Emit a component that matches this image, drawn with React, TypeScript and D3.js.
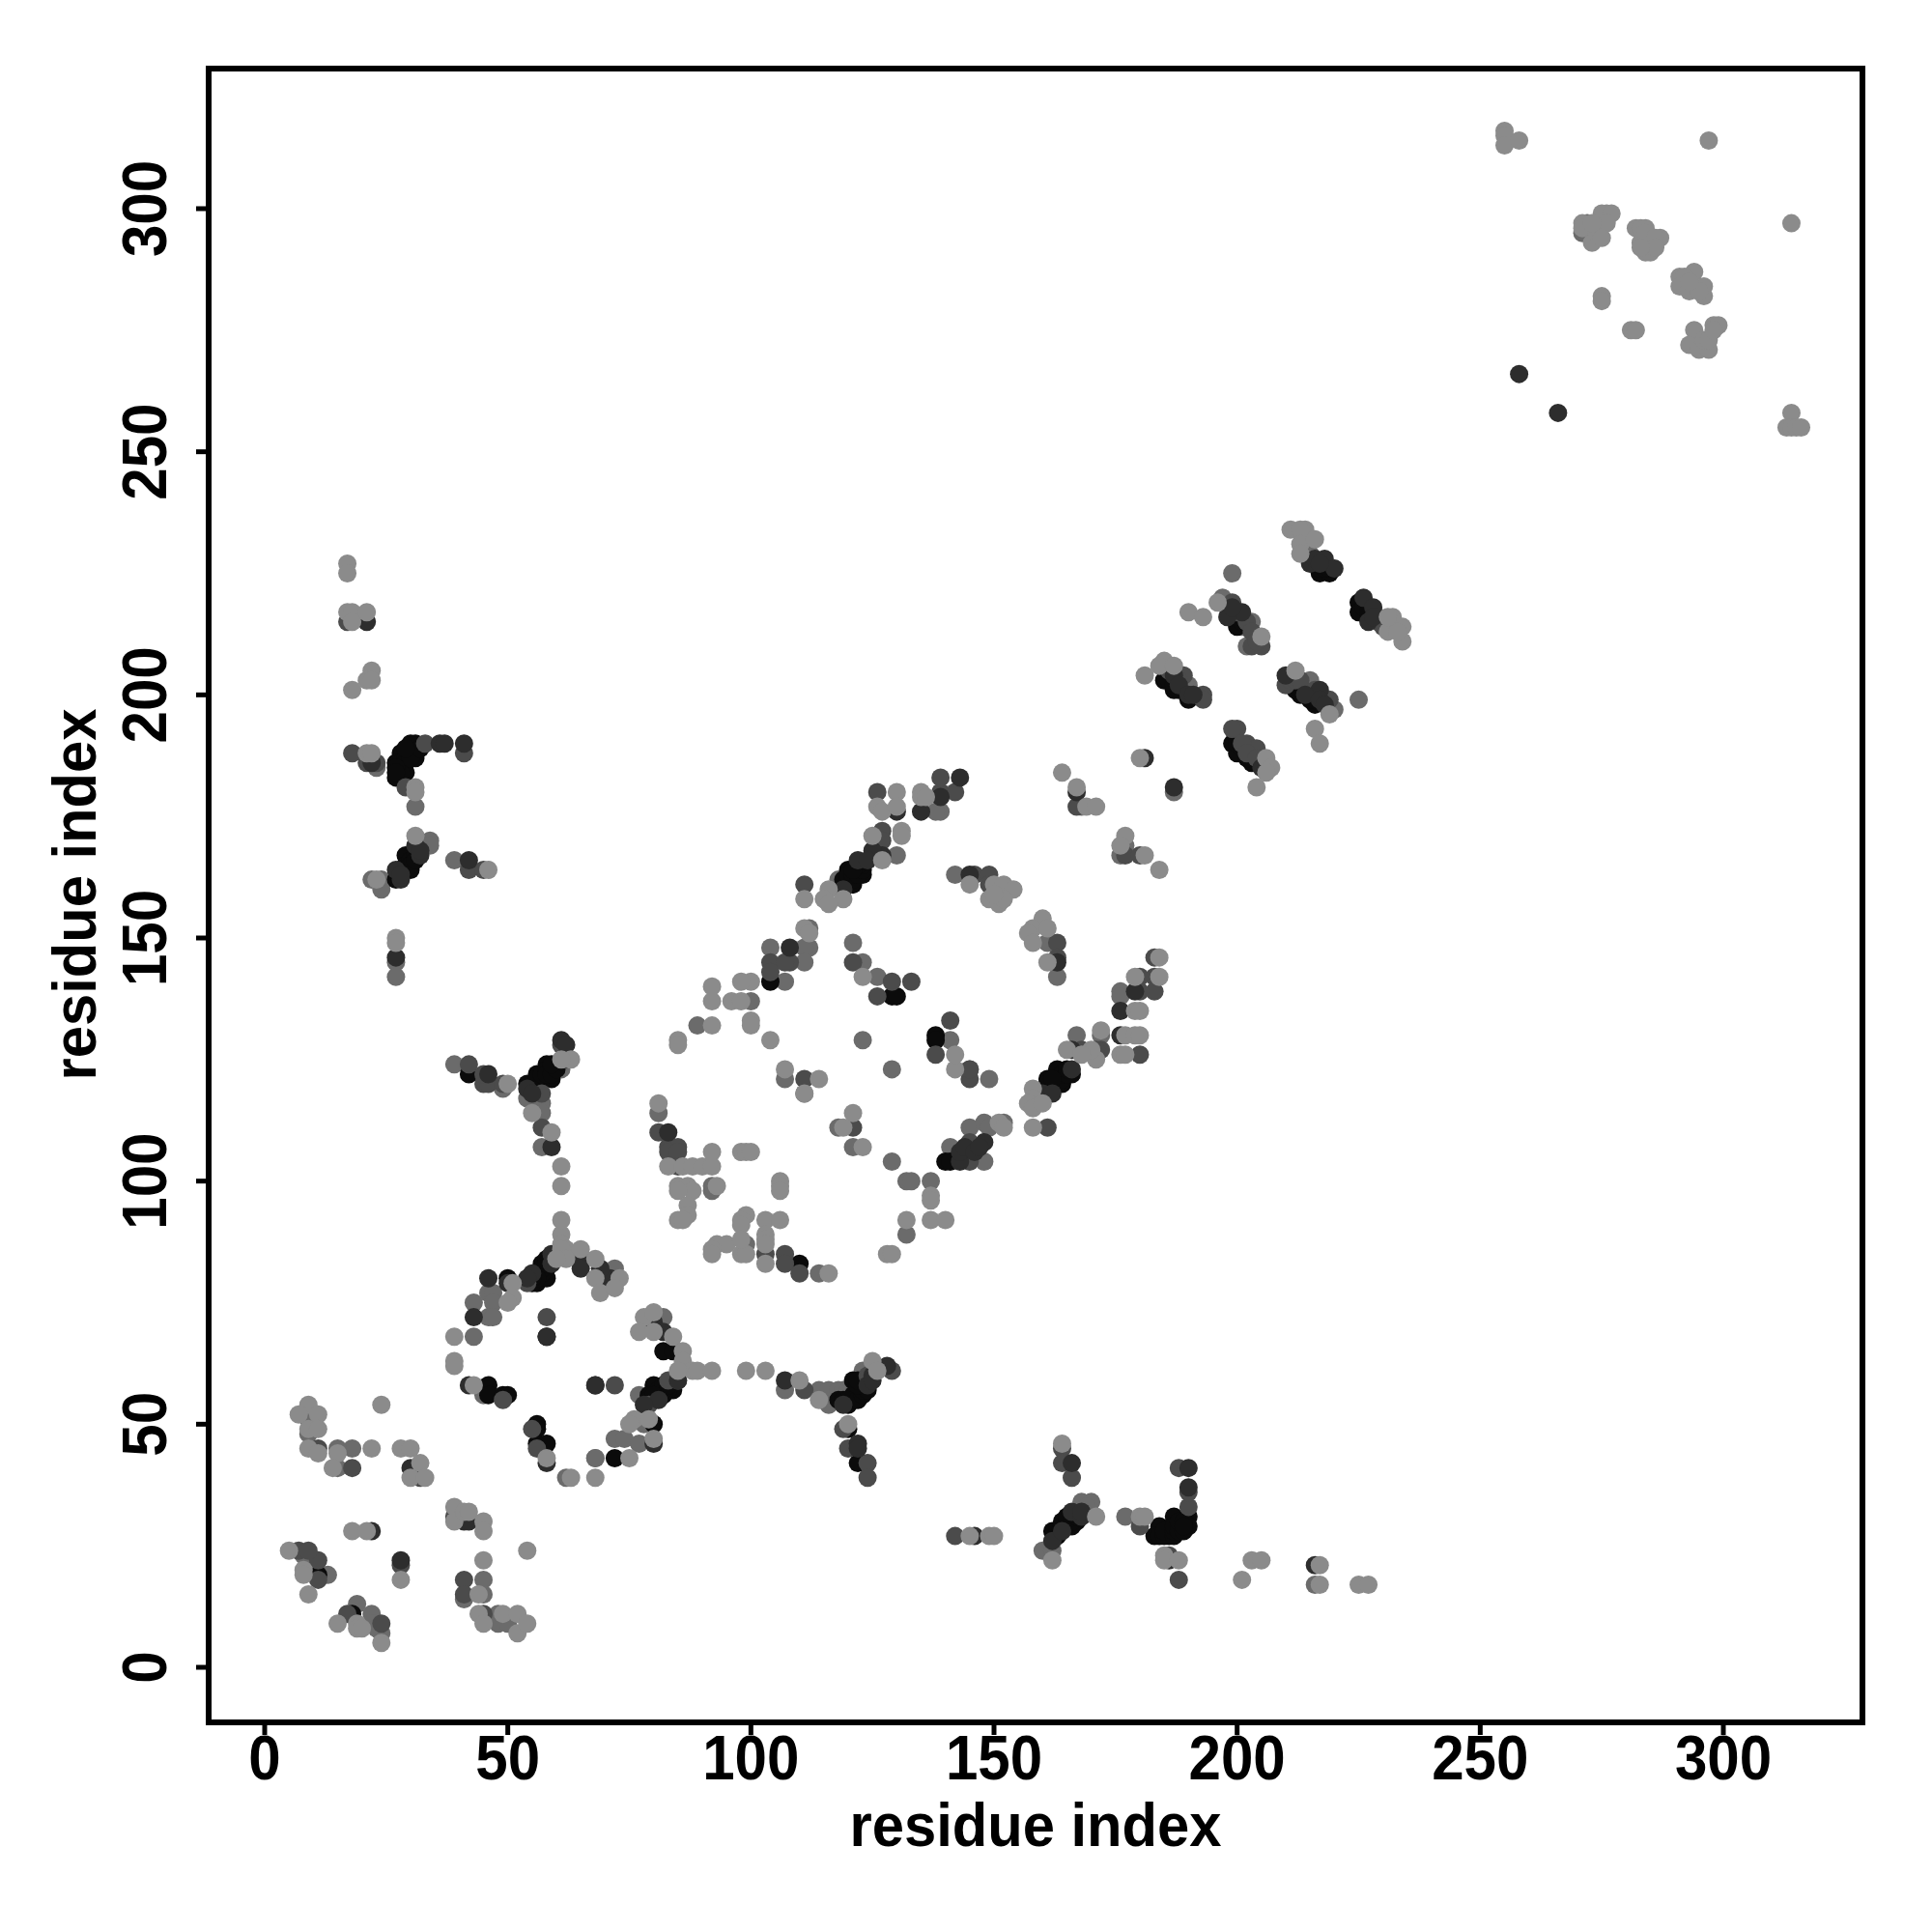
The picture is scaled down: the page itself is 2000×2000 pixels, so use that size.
import React from "react";
import * as d3 from "d3";

const xTicks = [0, 50, 100, 150, 200, 250, 300];
const yTicks = [0, 50, 100, 150, 200, 250, 300];
const axisLabel = "residue index";

const lightPts: number[][] = [
[9,54],[7,52],[11,52],[9,49],[11,49],[9,45],[11,44],[15,44],[22,45],[24,54],[14,41],[28,45],[30,45],[32,42],[30,39],[33,39],
[39,68],[39,63],[39,62],[43,58],[58,43],[63,39],[68,39],[39,33],[39,30],[41,32],[42,32],[45,30],[45,28],[54,24],[45,22],[44,15],
[44,11],[45,9],[49,11],[52,11],[52,7],[54,9],[18,28],[21,28],[28,18],[5,24],[8,20],[8,19],[9,15],[15,9],[19,9],[19,8],[20,8],[24,5],
[61,89],[61,87],[62,86],[61,86],[65,86],[68,84],[73,80],[68,80],[69,77],[72,78],[62,84],[60,84],[51,79],[51,76],[50,75],
[78,72],[80,73],[77,69],[80,69],[84,68],[86,65],[86,63],[88,61],[89,61],[92,61],[99,61],[103,61],[85,61],[76,51],[75,50],[79,51],[80,47],[75,43],
[81,116],[83,103],[86,103],[88,103],[90,103],[92,106],[92,103],[98,106],[99,106],[100,106],[85,99],[87,99],[88,98],[85,98],[93,99],[87,95],[85,92],[87,93],[86,92],
[106,100],[106,99],[106,98],[99,93],[98,92],[98,91],[103,92],[106,92],[103,89],[103,88],[103,87],[93,87],[95,87],[92,86],[92,85],[98,85],[99,85],[98,88],[103,83],[116,81],
[121,114],[119,111],[123,107],[132,92],[137,97],[137,96],[137,92],[140,92],[128,85],[129,85],
[110,59],[114,55],[125,63],[126,61],[120,50],[145,27],[149,27],[150,27],
[164,46],[171,31],[162,22],[180,31],[181,31],[185,23],[185,22],[188,22],
[201,18],[203,22],[205,22],[217,21],[217,17],[225,17],[227,17],
[17,227],[17,225],[17,217],[18,217],[18,215],[21,217],[22,205],[21,203],[22,203],[18,201],[21,188],[22,188],[31,181],[31,180],[31,171],[23,162],[46,164],
[27,150],[27,149],[63,125],[61,125],[55,114],[59,110],[61,103],[61,99],[61,92],[50,120],
[130,180],[126,177],[127,176],[130,177],[135,180],[135,179],[136,179],[125,171],[131,172],[131,171],[127,166],[116,160],[115,158],[119,158],[116,157],[111,158],
[111,152],[112,151],[100,141],[98,141],[92,140],[92,137],[96,137],[98,137],[92,132],[100,133],[100,132],[104,129],[85,129],[85,128],[107,123],[114,121],[111,118],
[123,142],[142,123],[142,126],
[145,161],[150,161],[152,161],[154,160],[149,158],[151,157],[152,158],[150,159],[160,154],[158,152],[157,151],[161,152],[158,149],[161,145],[184,164],
[184,146],[179,142],[184,142],[179,135],[180,135],[172,131],[177,130],[179,130],[180,130],[176,126],[177,126],[171,125],[170,127],[165,127],[168,126],
[158,119],[158,117],[157,116],[158,115],[160,116],[158,111],[151,112],[152,111],
[164,184],[167,181],[169,177],[171,177],[177,171],[176,169],[181,167],[180,187],
[181,204],[185,207],[184,206],[187,206],[206,187],[207,185],[206,184],[204,181],[212,205],[219,196],[216,193],[217,190],
[190,217],[193,216],[196,219],[205,212],[211,234],[214,234],[213,234],[213,231],[216,232],[213,229],[232,216],[231,213],[234,214],[234,211],[233,213],[231,216],
[255,316],[255,315],[255,313],[258,314],[297,314],[314,297],[271,297],[271,296],[273,293],[274,295],[276,299],[275,299],[277,299],[276,297],[275,294],[273,297],
[282,296],[283,296],[284,296],[283,293],[284,295],[287,294],[286,294],[284,291],[285,291],[286,292],[283,292],
[294,287],[291,286],[292,286],[291,284],[293,283],[296,284],[296,282],[295,283],[293,285],[275,282],[275,281],[281,275],[282,275],
[298,276],[299,276],[294,275],[293,272],[295,271],[297,271],[296,273],[297,273],[298,275],
[314,258],[313,255],[314,255],[315,255],[316,255],
];

const midPts: number[][] = [
[18,45],[15,45],[15,41],[9,51],[9,48],[43,68],[45,56],[68,43],[62,39],[45,18],[45,15],[41,14],[48,11],[48,9],[50,9],[19,13],[22,11],[22,9],[24,7],[23,8],[8,23],[9,22],[13,19],
[72,82],[69,80],[46,77],[47,77],[47,75],[43,75],[46,72],[47,72],[82,72],[77,56],[78,50],[72,47],[74,47],[77,46],[68,43],
[81,114],[92,98],[92,99],[99,87],[114,81],[118,111],[121,107],[129,104],[132,100],[133,100],[137,100],[132,89],[111,118],
[107,57],[114,57],[116,57],[116,54],[118,57],[119,57],[120,57],[123,61],[125,61],
[168,34],[170,34],[169,33],[160,24],[162,24],[177,31],[216,17],
[23,185],[31,177],[34,170],[33,169],[34,169],[22,162],[24,162],[24,160],[39,166],[27,145],[27,142],
[61,123],[54,117],[57,116],[57,114],[39,124],[49,119],[57,107],
[139,176],[138,176],[130,167],[118,162],[112,152],[112,148],[111,148],[111,145],[104,148],[107,141],[89,132],[100,137],[107,121],
[121,149],[123,145],[126,142],[123,129],[129,123],[141,129],
[142,163],[161,149],[163,142],[176,139],[176,138],[167,130],[172,130],[145,123],[149,121],[145,111],[148,112],[149,111],[152,112],[141,107],[148,104],
[168,177],[177,169],[176,167],[187,180],[190,202],[203,215],[202,210],[215,203],[220,197],[225,199],[199,225],[197,220],[215,229],[229,216],
[271,295],[272,297],[295,273],
[203,187],[205,186],[204,212],[201,214],[189,203],[214,202],[218,199],
];

const darkPts: number[][] = [
[11,45],[32,39],[18,41],[49,55],[39,31],[55,49],[56,45],[41,18],[41,15],[45,11],[28,21],[11,22],[7,24],[9,24],[11,18],[17,11],[24,9],
[58,72],[54,79],[72,58],[69,82],[85,59],
[79,54],[83,59],[81,110],[83,107],[85,107],[83,106],[85,106],[85,103],[103,85],[107,85],[107,83],[110,81],[111,57],[121,111],[129,61],
[124,60],[119,49],[120,45],[124,42],[124,39],
[142,27],[164,45],[164,42],[166,39],[180,29],[190,33],[190,36],[188,41],[186,23],[188,18],
[17,215],[18,188],[21,186],[23,186],[33,190],[29,181],[41,188],[42,164],[45,164],
[61,128],[62,125],[57,118],[57,111],[42,124],[45,120],[46,120],[45,122],[49,120],
[126,180],[139,180],[142,180],[139,183],[127,172],[127,170],[111,161],[104,145],[108,145],[107,145],[104,143],[111,121],
[121,145],[129,141],[133,141],[126,138],[141,133],[138,126],[145,121],[145,123],
[146,163],[149,163],[149,161],[163,149],[163,146],[183,146],[183,142],[180,142],[183,139],[180,139],[180,126],[172,127],[171,127],[168,127],[161,111],
[145,108],[145,107],[145,104],[167,177],[177,167],[180,167],[186,206],[189,204],[193,200],[193,199],[200,193],[199,193],[202,190],[204,189],
[210,202],[219,199],[199,219],[203,210],[205,210],
[186,205],[188,203],[201,190],[202,188],[204,187],[211,203],[212,203],[213,203],[216,201],[200,217],[202,215],[203,213],[204,211],[230,214],[229,215],
];

const darkerPts: number[][] = [
[30,41],[42,58],[58,42],[41,30],[42,30],[22,28],[28,22],
[65,84],[65,82],[71,80],[69,82],[59,85],[55,81],[59,83],[46,80],[50,79],[43,72],[58,68],[68,58],[80,71],[82,69],[85,59],[81,55],[80,46],
[83,110],[107,59],[124,58],[128,62],[119,54],[146,27],[162,26],[166,32],[164,28],[168,31],[166,42],[122,46],[122,45],[190,37],[190,41],[186,22],
[21,215],[22,186],[36,190],[37,190],[41,190],[31,169],[32,167],[27,164],[28,162],[28,163],[42,166],[27,146],
[61,129],[62,128],[54,119],[55,118],[59,107],[46,122],
[135,176],[143,183],[139,179],[130,176],[122,166],[119,160],[127,167],[125,168],[108,148],
[145,163],[163,145],[176,135],[179,139],[176,130],[166,127],[160,118],[162,118],[148,108],[143,104],
[167,180],[181,187],[187,181],[210,204],[217,201],[218,228],[215,227],[220,226],[226,220],[228,218],[227,215],[201,217],[198,216],
[258,266],[266,258],[216,21],
[125,60],[125,59],[124,166],[166,123],[54,80],[78,54],[143,106],[144,107],[146,106],[147,107],[168,32],[32,168],
[187,204],[188,202],[190,200],[191,200],[205,185],[214,200],[217,199],[218,198],[199,218],[228,216],[216,228],[217,227],
];

const blackPts: number[][] = [
[46,58],[46,56],[49,56],[50,56],[68,58],[56,50],[56,49],[56,46],[58,46],[58,68],[11,19],[18,11],
[57,83],[58,82],[56,79],[58,80],[57,81],[55,79],[50,80],[82,65],[84,65],[84,57],[83,57],[80,58],[79,56],[82,56],[80,55],[80,50],[72,43],
[110,83],[121,59],[122,57],[120,54],[118,55],[121,55],[121,56],[122,56],[120,49],[122,42],
[162,28],[164,30],[167,30],[184,29],[183,27],[186,27],[184,27],[187,31],[188,29],[190,31],[190,29],
[30,190],[31,190],[28,188],[31,187],[27,186],[27,183],[29,184],[29,167],[30,164],[27,162],
[58,124],[59,121],[56,122],[57,121],[54,120],[42,122],
[123,163],[120,164],[119,162],[121,161],[104,141],[129,138],[130,138],[138,130],[138,129],[140,104],[141,104],
[166,122],[163,123],[161,121],[164,120],
[185,203],[187,201],[190,199],[199,190],[200,188],[203,186],[213,200],[216,198],[200,214],
[217,225],[219,225],[225,219],[225,217],
[28,186],[28,185],[29,187],[29,186],[28,184],[30,188],[30,187],[27,185],[32,189],[29,189],[27,184],
[28,164],[29,165],[30,166],[31,167],[30,165],[31,166],
[58,84],[59,84],[57,82],[56,80],[55,80],[58,83],[60,85],
[81,56],[81,57],[82,57],[82,58],[83,58],[84,59],[79,55],[80,56],
[55,120],[55,119],[56,120],[56,121],[57,122],[58,123],[58,122],[59,122],[60,123],[59,124],
[119,55],[120,55],[122,55],[123,56],[123,57],[123,58],[124,57],[122,58],[122,59],[124,59],
[163,27],[163,28],[164,29],[165,29],[165,30],[165,31],[166,29],[166,30],[167,31],
[185,27],[185,28],[187,27],[187,28],[187,29],[188,28],[188,30],[189,30],[189,28],[189,29],
[120,162],[120,163],[121,162],[121,163],[122,163],[122,164],[123,164],[123,165],[122,165],[121,164],
[161,119],[162,119],[162,120],[163,120],[163,121],[164,121],[164,122],[165,122],[165,123],[161,120],[162,121],
[200,190],[201,189],[202,187],[186,203],[187,202],[188,201],[212,201],[213,201],[215,199],[198,218],[199,216],[201,215],
[216,227],[217,226],[218,226],[219,226],[226,218],[227,217],
];

const W = 2000;
const frame = { left: 216, right: 1928, top: 71, bottom: 1783 };
const grey = { light: "#8b8b8b", mid: "#6b6b6b", dark: "#4b4b4b", darker: "#2d2d2d", black: "#0b0b0b" };
const digitWidth = 33.4;
const labelWidth = 385;

export default function App() {
  const x = d3.scaleLinear().domain([0, 300]).range([274, 1784]);
  const y = d3.scaleLinear().domain([0, 300]).range([1726, 216]);
  const layers: [number[][], string][] = [
    [midPts, grey.mid],
    [blackPts, grey.black],
    [darkPts, grey.dark],
    [darkerPts, grey.darker],
    [lightPts, grey.light],
  ];
  const font = "'Liberation Sans', Arial, sans-serif";
  return (
    <svg width={W} height={W} viewBox={`0 0 ${W} ${W}`} style={{ position: "absolute", left: 0, top: 0, background: "#fff" }} fontFamily={font} fontWeight="bold">
      {layers.map(([pts, c], i) => (
        <g key={i} fill={c}>
          {pts.map((p, j) => <circle key={j} cx={x(p[0])} cy={y(p[1])} r={9.5} />)}
        </g>
      ))}
      <rect x={frame.left} y={frame.top} width={frame.right - frame.left} height={frame.bottom - frame.top} fill="none" stroke="#000" strokeWidth={6} />
      {xTicks.map(t => (
        <g key={t}>
          <line x1={x(t)} x2={x(t)} y1={frame.bottom} y2={frame.bottom + 13} stroke="#000" strokeWidth={5} />
          <text x={x(t)} y={1842} textAnchor="middle" fontSize={65} fill="#000" textLength={digitWidth * String(t).length} lengthAdjust="spacingAndGlyphs">{t}</text>
        </g>
      ))}
      {yTicks.map(t => (
        <g key={t}>
          <line x1={frame.left - 13} x2={frame.left} y1={y(t)} y2={y(t)} stroke="#000" strokeWidth={5} />
          <text transform={`translate(172,${y(t)}) rotate(-90)`} textAnchor="middle" fontSize={65} fill="#000" textLength={digitWidth * String(t).length} lengthAdjust="spacingAndGlyphs">{t}</text>
        </g>
      ))}
      <text x={1072} y={1911} textAnchor="middle" fontSize={63} fill="#000" textLength={labelWidth} lengthAdjust="spacingAndGlyphs">{axisLabel}</text>
      <text transform={`translate(99,926) rotate(-90)`} textAnchor="middle" fontSize={63} fill="#000" textLength={labelWidth} lengthAdjust="spacingAndGlyphs">{axisLabel}</text>
    </svg>
  );
}
